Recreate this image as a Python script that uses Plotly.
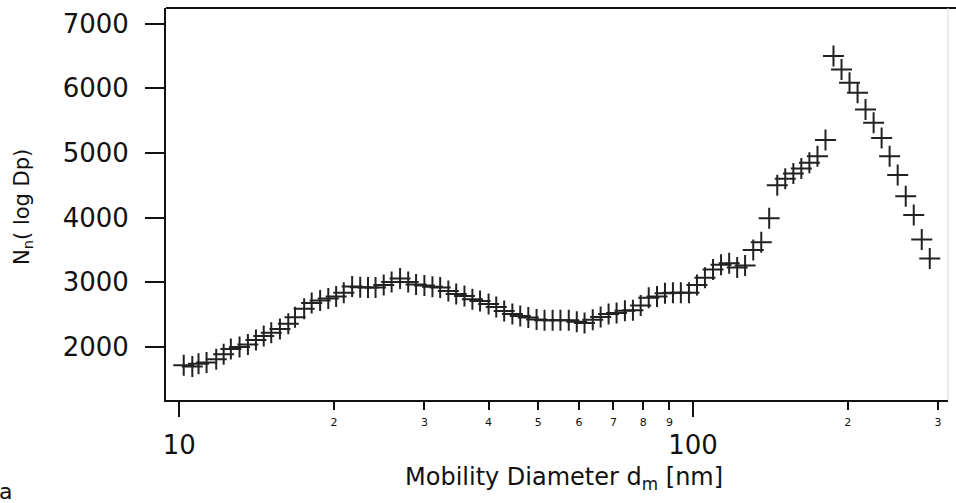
import plotly.graph_objects as go

# SMPS channel midpoints, mobility diameter in nm (64 channels per decade)
diameter_nm = [
    10.2, 10.6, 10.9, 11.3, 11.8, 12.2, 12.6, 13.1, 13.6, 14.1,
    14.6, 15.1, 15.7, 16.3, 16.8, 17.5, 18.1, 18.8, 19.5, 20.2,
    20.9, 21.7, 22.5, 23.3, 24.1, 25.0, 25.9, 26.9, 27.9, 28.9,
    30.0, 31.1, 32.2, 33.4, 34.6, 35.9, 37.2, 38.5, 40.0, 41.4,
    42.9, 44.5, 46.1, 47.8, 49.6, 51.4, 53.3, 55.2, 57.3, 59.4,
    61.5, 63.8, 66.1, 68.5, 71.0, 73.7, 76.4, 79.1, 82.0, 85.1,
    88.2, 91.4, 94.7, 98.2, 101.8, 105.5, 109.4, 113.4, 117.6, 121.9,
    126.3, 131.0, 135.8, 140.7, 145.9, 151.2, 156.8, 162.5, 168.5, 174.7,
    181.1, 187.7, 194.6, 201.7, 209.1, 216.7, 224.7, 232.9, 241.4, 250.3,
    259.5, 269.0, 278.8, 289.0,
]

# number size distribution N(log Dp)
number_conc = [
    1720, 1700, 1740, 1760, 1810, 1890, 1970, 2000, 2040, 2110,
    2170, 2220, 2280, 2360, 2460, 2590, 2680, 2720, 2750, 2780,
    2840, 2935, 2925, 2920, 2920, 2960, 3005, 3060, 3005, 2965,
    2950, 2930, 2920, 2865, 2820, 2790, 2740, 2710, 2665, 2620,
    2555, 2510, 2480, 2455, 2425, 2415, 2415, 2415, 2415, 2390,
    2370, 2420, 2465, 2510, 2525, 2560, 2570, 2640, 2760, 2780,
    2830, 2840, 2840, 2840, 2960, 3070, 3200, 3270, 3295, 3230,
    3260, 3500, 3620, 3990, 4500, 4600, 4680, 4760, 4850, 4950,
    5200, 6500, 6290, 6085, 5930, 5670, 5465, 5230, 4950, 4660,
    4330, 4040, 3660, 3370,
]

y_ticks = [2000, 3000, 4000, 5000, 6000, 7000]
minor_ticks = [20, 30, 40, 50, 60, 70, 80, 90, 200, 300]
minor_labels = ["2", "3", "4", "5", "6", "7", "8", "9", "2", "3"]
major_ticks = [10, 100]
major_labels = ["10", "100"]

x_range = [0.97411, 2.4964]   # log10 of the axis limits
y_range = [1181, 7240]

FONT = "DejaVu Sans"
INK = "#111111"

fig = go.Figure()
fig.add_trace(go.Scatter(
    x=diameter_nm, y=number_conc, mode="markers",
    marker=dict(symbol="cross-thin", size=15, color="#222222",
                line=dict(color="#222222", width=2)),
    showlegend=False, hoverinfo="x+y",
))
# transparent point so the overlaid major-tick axis gets its own subplot
fig.add_trace(go.Scatter(x=[20], y=[3000], xaxis="x2", mode="markers",
                         marker=dict(opacity=0), showlegend=False,
                         hoverinfo="skip"))

fig.update_layout(
    width=956, height=503,
    margin=dict(l=166, r=8, t=8, b=103),
    paper_bgcolor="white", plot_bgcolor="white",
    font=dict(family=FONT, color=INK),
    xaxis=dict(
        type="log", range=x_range, showgrid=False, zeroline=False,
        showline=True, linecolor=INK, linewidth=2, mirror=False,
        tickmode="array", tickvals=minor_ticks, ticktext=minor_labels,
        ticks="outside", ticklen=8, tickwidth=1.5, tickcolor=INK,
        tickfont=dict(size=11, family=FONT, color=INK),
        ticklabelstandoff=3,
    ),
    xaxis2=dict(
        type="log", range=x_range, overlaying="x", anchor="y", side="bottom",
        showgrid=False, zeroline=False, showline=False,
        tickmode="array", tickvals=major_ticks, ticktext=major_labels,
        ticks="outside", ticklen=16, tickwidth=2, tickcolor=INK,
        tickfont=dict(size=26, family=FONT, color=INK),
        ticklabelstandoff=6,
    ),
    yaxis=dict(
        range=y_range, showgrid=False, zeroline=False,
        showline=True, linecolor=INK, linewidth=2, mirror=False,
        tickmode="array", tickvals=y_ticks,
        ticks="outside", ticklen=19, tickwidth=2, tickcolor=INK,
        tickfont=dict(size=26, family=FONT, color=INK),
        ticklabelstandoff=11,
    ),
    shapes=[
        # top frame line running to the right edge
        dict(type="line", xref="paper", yref="paper", x0=0, x1=1.0102,
             y0=1, y1=1, line=dict(color=INK, width=2)),
        # faint right frame line
        dict(type="line", xref="paper", yref="paper", x0=1, x1=1,
             y0=0, y1=1, line=dict(color="#d8d8d8", width=1)),
    ],
    annotations=[
        dict(text="Mobility Diameter d<sub>m</sub> [nm]", xref="paper",
             yref="paper", x=(564 - 166) / 782, y=(400 - 479) / 392,
             xanchor="center", yanchor="middle", showarrow=False,
             font=dict(size=24, family=FONT, color=INK)),
        dict(text="N<sub>n</sub>( log Dp)", xref="paper", yref="paper",
             x=(23 - 166) / 782, y=(400 - 207) / 392, textangle=-90,
             xanchor="center", yanchor="middle", showarrow=False,
             font=dict(size=21, family=FONT, color=INK)),
        dict(text="a", xref="paper", yref="paper",
             x=(-3 - 166) / 782, y=(400 - 491) / 392,
             xanchor="left", yanchor="middle", showarrow=False,
             font=dict(size=22, family=FONT, color=INK)),
    ],
)

fig.write_html("out.html")
